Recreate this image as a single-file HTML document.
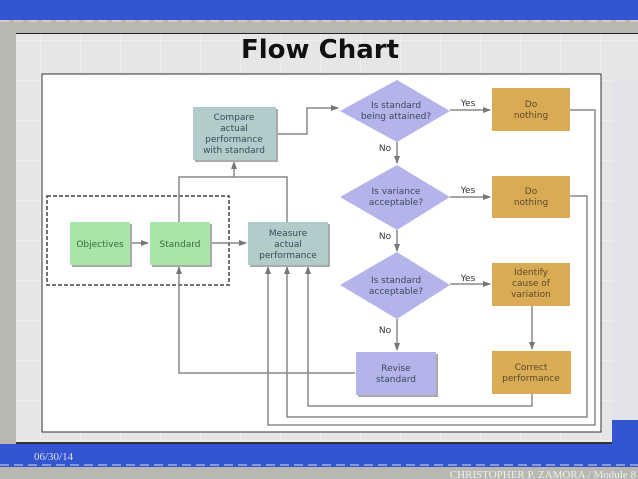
<!DOCTYPE html>
<html><head><meta charset="utf-8"><style>
html,body{margin:0;padding:0;width:638px;height:479px;overflow:hidden;background:#b9b9b1}
svg{display:block}
text{font-family:"DejaVu Sans","Liberation Sans",sans-serif}
</style></head><body>
<svg width="638" height="479" viewBox="0 0 638 479" xmlns="http://www.w3.org/2000/svg">
<defs>
<pattern id="g" width="40" height="40" patternUnits="userSpaceOnUse"><rect width="40" height="40" fill="#e6e6e6"/><path d="M0 0H40M0 0V40" stroke="#f6f6f6" stroke-width="1"/></pattern>
<marker id="a" markerWidth="8" markerHeight="8" refX="7" refY="4" orient="auto" markerUnits="userSpaceOnUse"><path d="M0 1L8 4L0 7z" fill="#777"/></marker>
</defs>
<rect x="0" y="0" width="638" height="20" fill="#3355d0"/>
<line x1="0" y1="21" x2="638" y2="21" stroke="#dde" stroke-width="1" stroke-dasharray="9,5"/>
<rect x="0" y="22" width="638" height="420" fill="#b8b8b0"/>
<rect x="16" y="33" width="622" height="410" fill="url(#g)"/>
<line x1="16" y1="33.5" x2="638" y2="33.5" stroke="#222" stroke-width="1"/>
<rect x="612" y="80" width="26" height="363" fill="#dfe2ec" opacity="0.6"/>
<text x="320" y="58" text-anchor="middle" font-size="26" font-weight="bold" fill="#111">Flow Chart</text>
<rect x="42" y="74" width="559" height="358" fill="#fff" stroke="#333" stroke-width="1"/>
<line x1="16" y1="443" x2="612" y2="443" stroke="#000" stroke-width="1.5"/>
<rect x="0" y="444" width="638" height="23" fill="#3355d0"/>
<rect x="612" y="420" width="26" height="24" fill="#3355d0"/>
<line x1="0" y1="465" x2="638" y2="465" stroke="#dde" stroke-width="1" stroke-dasharray="9,5"/>
<rect x="0" y="467" width="638" height="12" fill="#b8b8b0"/>
<text x="34" y="460" font-family="Liberation Serif" font-size="11" fill="#dde" style="font-family:'Liberation Serif',serif">06/30/14</text>
<text x="636" y="478" text-anchor="end" font-size="11" fill="#eee" style="font-family:'Liberation Serif',serif">CHRISTOPHER P. ZAMORA / Module 8</text>

<g fill="none" stroke="#888" stroke-width="1.5">
<rect x="47" y="196" width="182" height="89" stroke="#444" stroke-dasharray="4,2"/>
<path d="M130 243H148" marker-end="url(#a)"/>
<path d="M210 243H246" marker-end="url(#a)"/>
<path d="M179 222V177H287V222"/>
<path d="M234 177V162" marker-end="url(#a)"/>
<path d="M276 134H307V108H338" marker-end="url(#a)"/>
<path d="M450 110H490" marker-end="url(#a)"/>
<path d="M450 197H490" marker-end="url(#a)"/>
<path d="M450 284H490" marker-end="url(#a)"/>
<path d="M397 142V163" marker-end="url(#a)"/>
<path d="M397 230V251" marker-end="url(#a)"/>
<path d="M397 319V350" marker-end="url(#a)"/>
<path d="M532 306V349" marker-end="url(#a)"/>
<path d="M355 373H179V267" marker-end="url(#a)"/>
<path d="M532 394V406H308V267" marker-end="url(#a)"/>
<path d="M570 196H587V417H287V267" marker-end="url(#a)"/>
<path d="M570 110H595V425H268V267" marker-end="url(#a)"/>
</g>
<g>
<rect x="72" y="224" width="60" height="43" fill="#aaa"/>
<rect x="70" y="222" width="60" height="43" fill="#a8e6a8"/>
<rect x="152" y="224" width="60" height="43" fill="#aaa"/>
<rect x="150" y="222" width="60" height="43" fill="#a8e6a8"/>
<rect x="250" y="224" width="80" height="43" fill="#aaa"/>
<rect x="248" y="222" width="80" height="43" fill="#b2cccc"/>
<rect x="195" y="109" width="83" height="53" fill="#aaa"/>
<rect x="193" y="107" width="83" height="53" fill="#b2cccc"/>
<rect x="358" y="354" width="80" height="43" fill="#aaa"/>
<rect x="356" y="352" width="80" height="43" fill="#b4b4ea"/>
<g fill="#d9ab55">
<rect x="492" y="88" width="78" height="43"/>
<rect x="492" y="176" width="78" height="42"/>
<rect x="492" y="263" width="78" height="43"/>
<rect x="492" y="351" width="79" height="43"/>
</g>
<g fill="#b4b4ea">
<path d="M397 80L450 111L397 142L340 111Z"/>
<path d="M397 165L450 197L397 230L340 197Z"/>
<path d="M397 252L450 285L397 319L340 285Z"/>
</g>
</g>
<g font-size="9" text-anchor="middle" fill="#3a4a5a">
<text x="100" y="247" fill="#3a6a3a">Objectives</text>
<text x="180" y="247" fill="#3a6a3a">Standard</text>
<text x="288" y="236">Measure</text><text x="288" y="247">actual</text><text x="288" y="258">performance</text>
<text x="234" y="120">Compare</text><text x="234" y="131">actual</text><text x="234" y="142">performance</text><text x="234" y="153">with standard</text>
<text x="396" y="108">Is standard</text><text x="396" y="119">being attained?</text>
<text x="396" y="194">Is variance</text><text x="396" y="205">acceptable?</text>
<text x="396" y="283">Is standard</text><text x="396" y="294">acceptable?</text>
<text x="396" y="371">Revise</text><text x="396" y="382">standard</text>
<g fill="#5a4a2a">
<text x="531" y="107">Do</text><text x="531" y="118">nothing</text>
<text x="531" y="194">Do</text><text x="531" y="205">nothing</text>
<text x="531" y="275">Identify</text><text x="531" y="286">cause of</text><text x="531" y="297">variation</text>
<text x="531" y="370">Correct</text><text x="531" y="381">performance</text>
</g>
<g fill="#333">
<text x="468" y="106">Yes</text><text x="468" y="193">Yes</text><text x="468" y="281">Yes</text>
<text x="385" y="151">No</text><text x="385" y="239">No</text><text x="385" y="333">No</text>
</g>
</g>
</svg>
</body></html>
